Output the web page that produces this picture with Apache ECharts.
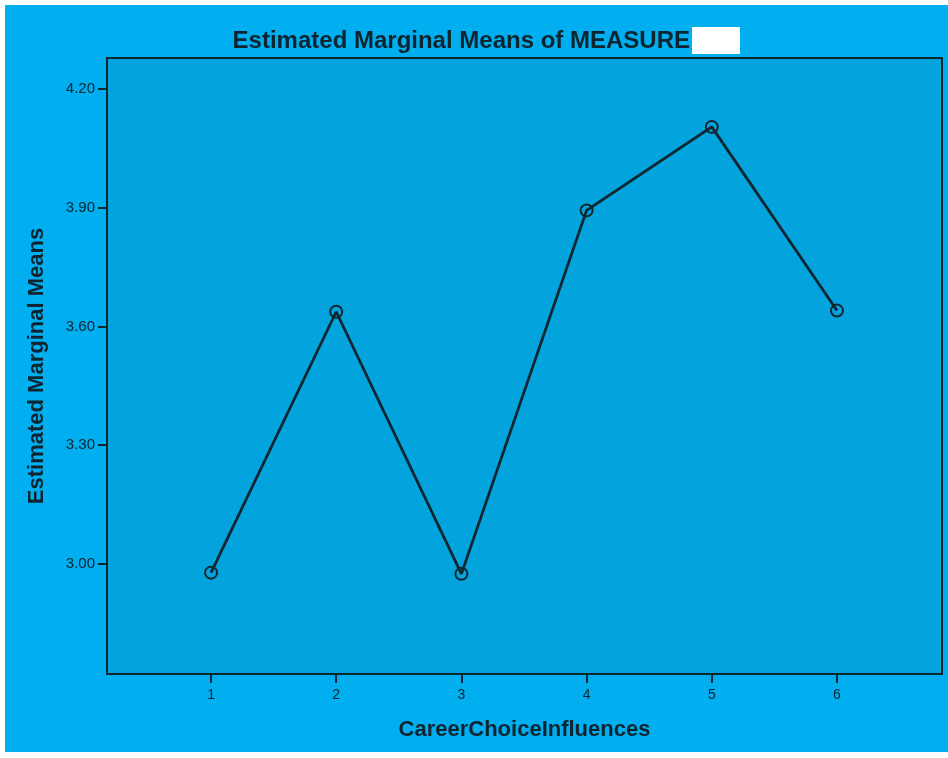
<!DOCTYPE html>
<html>
<head>
<meta charset="utf-8">
<script src="https://cdn.jsdelivr.net/npm/echarts@6/dist/echarts.min.js"></script>
<style>
html,body{margin:0;padding:0;background:#fff;}
#chart{width:948px;height:758px;}
</style>
</head>
<body>
<div id="chart"></div>
<script>
const categories = [1, 2, 3, 4, 5, 6];
const meanValues = [2.978, 3.637, 2.975, 3.893, 4.104, 3.640];
const yTickLabels = [3.00, 3.30, 3.60, 3.90, 4.20];
const xTickLabels = [1, 2, 3, 4, 5, 6];

const textColor = '#0e2530';
const lineColor = '#10262e';
const fontFam = 'Liberation Sans, Arial, sans-serif';

const chart = echarts.init(document.getElementById('chart'));
chart.setOption({
  backgroundColor: '#ffffff',
  animation: false,
  graphic: [
    { type: 'rect', z: -10, shape: { x: 5, y: 5, width: 943, height: 747 }, style: { fill: '#01AEEF' } },
    { type: 'text', z: 5, x: 690, y: 41, style: { text: 'Estimated Marginal Means of MEASURE', align: 'right', verticalAlign: 'middle', fill: textColor, font: 'bold 24px ' + fontFam } },
    { type: 'rect', z: 10, shape: { x: 692, y: 27, width: 48, height: 27 }, style: { fill: '#ffffff' } }
  ],
  grid: {
    left: 107, top: 58, width: 835, height: 616,
    show: true, backgroundColor: '#03A3DD', borderColor: lineColor, borderWidth: 2
  },
  xAxis: {
    type: 'value',
    min: 0.169, max: 6.839,
    name: 'CareerChoiceInfluences',
    nameLocation: 'middle',
    nameGap: 45,
    nameTextStyle: { fontFamily: fontFam, fontWeight: 'bold', fontSize: 22, color: textColor },
    splitLine: { show: false },
    axisLine: { show: true, lineStyle: { color: lineColor, width: 2 } },
    axisTick: { show: true, customValues: xTickLabels, length: 9, lineStyle: { color: lineColor, width: 2 } },
    axisLabel: { customValues: xTickLabels, color: textColor, fontSize: 14, fontFamily: fontFam, margin: 14, formatter: v => String(v) }
  },
  yAxis: {
    type: 'value',
    min: 2.722, max: 4.278,
    name: 'Estimated Marginal Means',
    nameLocation: 'middle',
    nameGap: 59,
    nameRotate: 90,
    nameTextStyle: { fontFamily: fontFam, fontWeight: 'bold', fontSize: 22, color: textColor },
    splitLine: { show: false },
    axisLine: { show: true, lineStyle: { color: lineColor, width: 2 } },
    axisTick: { show: true, customValues: yTickLabels, length: 9, lineStyle: { color: lineColor, width: 2 } },
    axisLabel: { customValues: yTickLabels, color: textColor, fontSize: 15, fontFamily: fontFam, margin: 12, formatter: v => v.toFixed(2) }
  },
  series: [{
    type: 'line',
    data: categories.map((c, i) => [c, meanValues[i]]),
    symbol: 'circle',
    symbolSize: 12,
    showAllSymbol: true,
    lineStyle: { color: lineColor, width: 2.8 },
    itemStyle: { color: 'rgba(0,0,0,0)', borderColor: lineColor, borderWidth: 2 },
    emphasis: { disabled: true }
  }]
});
</script>
</body>
</html>
